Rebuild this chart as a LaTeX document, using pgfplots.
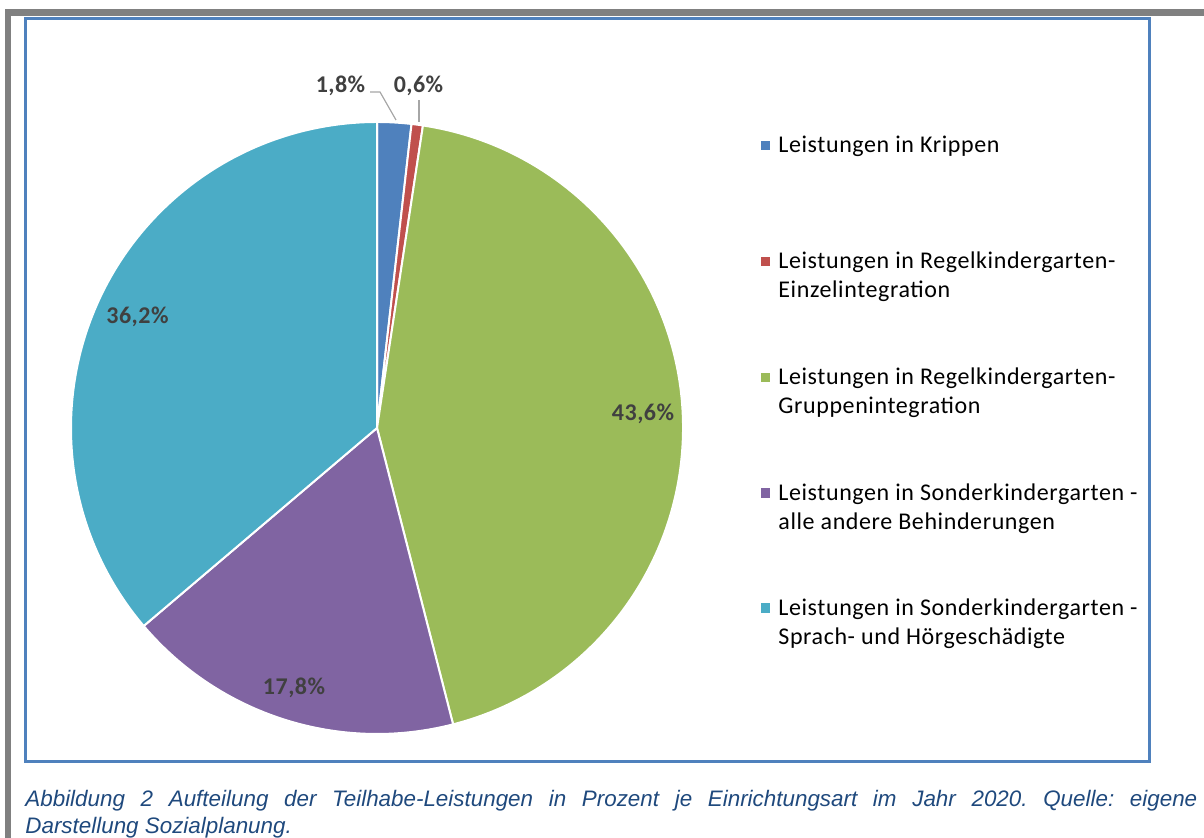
\documentclass[border=0pt]{standalone}
\usepackage{pgfplots}
\pgfplotsset{compat=1.18}
\usepackage{pgfplotstable}
\usepackage{fontspec}
\setmainfont{Carlito}
\newfontfamily\capfont{Liberation Sans}

\definecolor{cBlue}{HTML}{4F81BD}
\definecolor{cRed}{HTML}{C0504D}
\definecolor{cGreen}{HTML}{9BBB59}
\definecolor{cPurple}{HTML}{8064A2}
\definecolor{cTeal}{HTML}{4BACC6}
\definecolor{frameGray}{HTML}{808080}
\definecolor{lblGray}{HTML}{404040}
\definecolor{capBlue}{HTML}{1F497D}
\definecolor{leaderGray}{HTML}{A6A6A6}

% shares in percent, clockwise from 12 o'clock
\pgfplotstableread{
idx value
0 1.8
1 0.6
2 43.6
3 17.8
4 36.2
}\piedata

\gdef\piecum{0}
\foreach \i in {0,...,4}{%
  \pgfplotstablegetelem{\i}{value}\of\piedata
  \pgfmathsetmacro\sa{90-3.6*\piecum}%
  \pgfmathsetmacro\newcum{\piecum+\pgfplotsretval}%
  \pgfmathsetmacro\sb{90-3.6*\newcum}%
  \expandafter\xdef\csname pieA\i\endcsname{\sa}%
  \expandafter\xdef\csname pieB\i\endcsname{\sb}%
  \xdef\piecum{\newcum}%
}

\newcommand\pieslice[2]{%
  \fill[#2, draw=white, line width=1pt] (axis cs:377,410) -- ++(\csname pieA#1\endcsname:153pt)
    arc[start angle=\csname pieA#1\endcsname, end angle=\csname pieB#1\endcsname, radius=153pt] -- cycle;}

\begin{document}
\begin{tikzpicture}
\useasboundingbox (0,0) rectangle (602pt,419pt);
\begin{axis}[
  at={(0,0)}, anchor=south west,
  hide axis, scale only axis,
  x=0.5pt, y=0.5pt,
  xmin=0, xmax=1204, ymin=0, ymax=838,
  clip=false,
]
% outer frames
\fill[frameGray] (axis cs:5,822) rectangle (axis cs:1204,828.5);
\fill[frameGray] (axis cs:5,0) rectangle (axis cs:11,828.5);
\draw[cBlue, line width=1.5pt] (axis cs:25.5,76) rectangle (axis cs:1149.5,819.5);

% pie slices
\pieslice{0}{cBlue}
\pieslice{1}{cRed}
\pieslice{2}{cGreen}
\pieslice{3}{cPurple}
\pieslice{4}{cTeal}

% leader lines
\draw[leaderGray, line width=0.6pt] (axis cs:370,746) -- (axis cs:380,746) -- (axis cs:396,718);
\draw[leaderGray, line width=0.6pt] (axis cs:419,738) -- (axis cs:419,716);

% data labels
\begin{scope}[every node/.style={font=\fontsize{12}{14}\selectfont\bfseries\addfontfeature{LetterSpace=2}, text=lblGray, inner sep=0pt, anchor=base}]
\node at (axis cs:340.5,745) {1,8\%};
\node at (axis cs:418.5,745) {0,6\%};
\node at (axis cs:643,417.3) {43,6\%};
\node at (axis cs:137.5,514.7) {36,2\%};
\node at (axis cs:294,143.7) {17,8\%};
\end{scope}

% legend
\fill[cBlue]   (axis cs:760.75,687.75) rectangle ++(4.75pt,4.75pt);
\fill[cRed]    (axis cs:760.75,571.75) rectangle ++(4.75pt,4.75pt);
\fill[cGreen]  (axis cs:760.75,455.75) rectangle ++(4.75pt,4.75pt);
\fill[cPurple] (axis cs:760.75,340.25) rectangle ++(4.75pt,4.75pt);
\fill[cTeal]   (axis cs:760.75,225.25) rectangle ++(4.75pt,4.75pt);
\begin{scope}[every node/.style={font=\fontsize{12}{14.65}\selectfont\addfontfeature{LetterSpace=2.5}, text=black, inner sep=0pt, anchor=base west}]
\node at (axis cs:778,685.3) {Leistungen in Krippen};
\node at (axis cs:778,569.7) {Leistungen in Regelkindergarten-};
\node at (axis cs:778,540.4) {Einzelintegration};
\node at (axis cs:778,453.5) {Leistungen in Regelkindergarten-};
\node at (axis cs:778,424.2) {Gruppenintegration};
\node at (axis cs:778,337.3) {Leistungen in Sonderkindergarten -};
\node at (axis cs:778,308.0) {alle andere Behinderungen};
\node at (axis cs:778,222.3) {Leistungen in Sonderkindergarten -};
\node at (axis cs:778,193.0) {Sprach- und Hörgeschädigte};
\end{scope}

% caption
\node[anchor=base west, inner sep=0pt, text=capBlue] at (axis cs:25,31) {\parbox[t]{586pt}{\capfont\itshape\fontsize{11.2}{13.2}\selectfont
\parindent=0pt \hyphenpenalty=10000 \exhyphenpenalty=10000 \frenchspacing
Abbildung 2 Aufteilung der Teilhabe-Leistungen in Prozent je Einrichtungsart im Jahr 2020. Quelle: eigene\linebreak Darstellung Sozialplanung.}};
\end{axis}
\end{tikzpicture}
\end{document}
